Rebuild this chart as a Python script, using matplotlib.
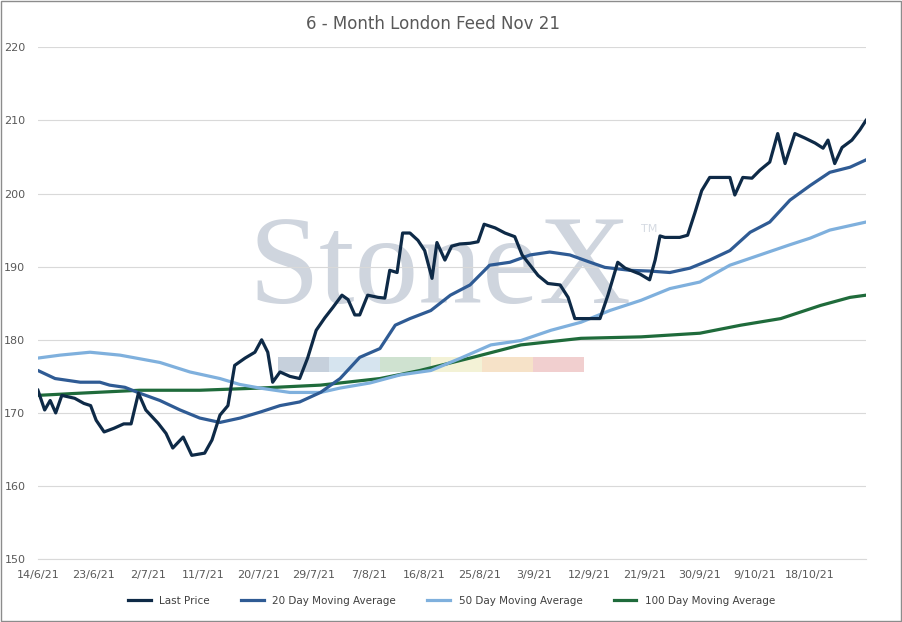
import numpy as np
import matplotlib.pyplot as plt
from matplotlib.patches import Rectangle

# x in days since 14/6/21
last_x = [0,1.1,2.0,2.9,3.9,6.0,7.5,8.6,9.5,10.8,12.4,14.0,15.2,16.4,17.6,19.6,20.9,22.0,23.7,25.1,
          27.2,28.4,29.7,31.0,32.1,33.8,35.4,36.5,37.5,38.3,39.5,41.1,42.7,44.0,45.4,46.8,48.1,49.6,50.6,51.7,
          52.5,53.8,55.5,56.6,57.4,58.6,59.5,60.7,62.0,63.1,64.3,65.1,66.4,67.5,68.8,70.5,71.8,72.8,74.6,76.2,
          77.8,79.0,80.3,81.6,83.2,85.2,86.5,87.6,90.0,91.7,93.0,94.6,95.8,98.2,99.8,100.7,101.5,102.3,104.7,106.0,
          107.2,108.3,109.6,112.9,113.7,115.0,116.5,117.8,119.4,120.7,121.9,123.5,125.1,126.8,128.1,128.9,130.0,131.2,132.8,134.1,
          135.1]
last_y = [173.1,170.4,171.7,170,172.4,172,171.3,171,169,167.4,167.9,168.5,168.5,172.7,170.4,168.6,167.2,165.2,166.7,164.2,
          164.5,166.3,169.7,171,176.5,177.5,178.3,180,178.3,174.2,175.6,175,174.7,177.5,181.3,183,184.4,186.1,185.5,183.4,
          183.4,186.1,185.8,185.7,189.5,189.2,194.6,194.6,193.6,192.2,188.4,193.3,190.9,192.8,193.1,193.2,193.4,195.8,195.3,194.6,
          194.1,191.6,190.2,188.8,187.7,187.5,185.8,182.9,182.9,182.9,186.1,190.6,189.8,189,188.2,190.9,194.2,194,194,194.3,
          197.4,200.4,202.2,202.2,199.8,202.2,202.1,203.2,204.3,208.2,204.1,208.2,207.6,206.9,206.2,207.3,204.1,206.3,207.3,208.7,
          210]

ma20_x = [0,2.8,6.9,10.1,11.7,14.2,16.6,19.9,23.2,26.4,29.7,33,36.2,39.5,42.7,46.1,49.3,52.5,55.8,58.3,60.7,64.1,67.3,70.5,73.7,77,80.3,83.5,86.8,90.1,92.5,96.6,99.8,103.1,106.4,109.6,112.9,116.2,119.4,122.7,126,129.2,132.5,135.1]
ma20_y = [175.8,174.7,174.2,174.2,173.8,173.5,172.7,171.7,170.4,169.3,168.7,169.3,170.1,171,171.5,172.8,174.7,177.6,178.8,182,182.9,184,186.1,187.5,190.2,190.6,191.6,192,191.6,190.6,189.9,189.5,189.4,189.2,189.8,190.9,192.2,194.7,196.1,199.1,201.1,202.9,203.6,204.6]

ma50_x = [0,3.6,8.5,13.4,19.9,24.8,29.7,32.9,36.2,41.1,46.1,49.3,54.2,59.1,64.1,69,73.9,78.8,83.7,88.6,93.3,98.4,103.1,108,112.9,117.8,122.7,126,129.2,135.1]
ma50_y = [177.5,177.9,178.3,177.9,176.9,175.6,174.7,173.9,173.4,172.8,172.8,173.4,174.1,175.2,175.8,177.5,179.3,179.9,181.3,182.4,184,185.4,187,187.9,190.2,191.6,193,193.9,195,196.1]

ma100_x = [0,6.9,16.6,26.4,36.2,46.1,55.8,62.3,70.5,78.8,88.6,98.4,108,114.7,121.2,127.7,132.5,135.1]
ma100_y = [172.4,172.7,173.1,173.1,173.4,173.8,174.7,175.8,177.5,179.3,180.2,180.4,180.9,182,182.9,184.7,185.8,186.1]

tick_days = [0,9,18,27,36,45,54,63,72,81,90,99,108,117,126]
tick_labels = ["14/6/21","23/6/21","2/7/21","11/7/21","20/7/21","29/7/21","7/8/21","16/8/21",
               "25/8/21","3/9/21","12/9/21","21/9/21","30/9/21","9/10/21","18/10/21"]

fig = plt.figure(figsize=(9.03, 6.22), dpi=100)
ax = fig.add_axes([0.042, 0.101, 0.917, 0.823])

# watermark
ax.text(0.485, 0.56, "StoneX", transform=ax.transAxes, fontsize=92, family="Liberation Serif",
        color="#cfd5de", ha="center", va="center", zorder=0)
ax.text(0.728, 0.64, "TM", transform=ax.transAxes, fontsize=8, color="#d5dae2", zorder=0)
wm_cols = ["#c6d0dc", "#d6e4ef", "#cfe2d0", "#f3f2d6", "#f6e2c8", "#f1cfcf"]
for i, c in enumerate(wm_cols):
    ax.add_patch(Rectangle((0.29 + i * 0.0615, 0.365), 0.0615, 0.03, transform=ax.transAxes,
                           color=c, zorder=0, lw=0))

ax.plot(ma100_x, ma100_y, color="#1f6b3b", lw=2.3, label="100 Day Moving Average")
ax.plot(ma50_x, ma50_y, color="#7fb0dd", lw=2.3, label="50 Day Moving Average")
ax.plot(ma20_x, ma20_y, color="#2f5b94", lw=2.3, label="20 Day Moving Average")
ax.plot(last_x, last_y, color="#0e2a47", lw=2.3, label="Last Price")

ax.set_xlim(0, 135.1)
ax.set_ylim(150, 220)
ax.set_yticks(range(150, 221, 10))
ax.set_xticks(tick_days)
ax.set_xticklabels(tick_labels)
ax.tick_params(length=0, labelsize=8, colors="#595959")
ax.tick_params(axis="x", pad=8)
ax.tick_params(axis="y", pad=9)
ax.grid(axis="y", color="#d9d9d9", lw=0.8)
ax.set_axisbelow(True)
for s in ["top", "right", "left"]:
    ax.spines[s].set_visible(False)
ax.spines["bottom"].set_color("#d9d9d9")

fig.text(0.48, 0.962, "6 - Month London Feed Nov 21", ha="center", va="center", fontsize=12, color="#595959")

h, l = ax.get_legend_handles_labels()
fig.legend(h[::-1], l[::-1], loc="center", bbox_to_anchor=(0.5, 0.034), ncol=4, frameon=False,
           fontsize=7.5, labelcolor="#404040", handlelength=2.2, columnspacing=3.0)
fig.add_artist(Rectangle((0.001, 0.002), 0.997, 0.996, transform=fig.transFigure,
                         fill=False, edgecolor="#8c8c8c", lw=1))
fig.savefig("out.png", dpi=100)
